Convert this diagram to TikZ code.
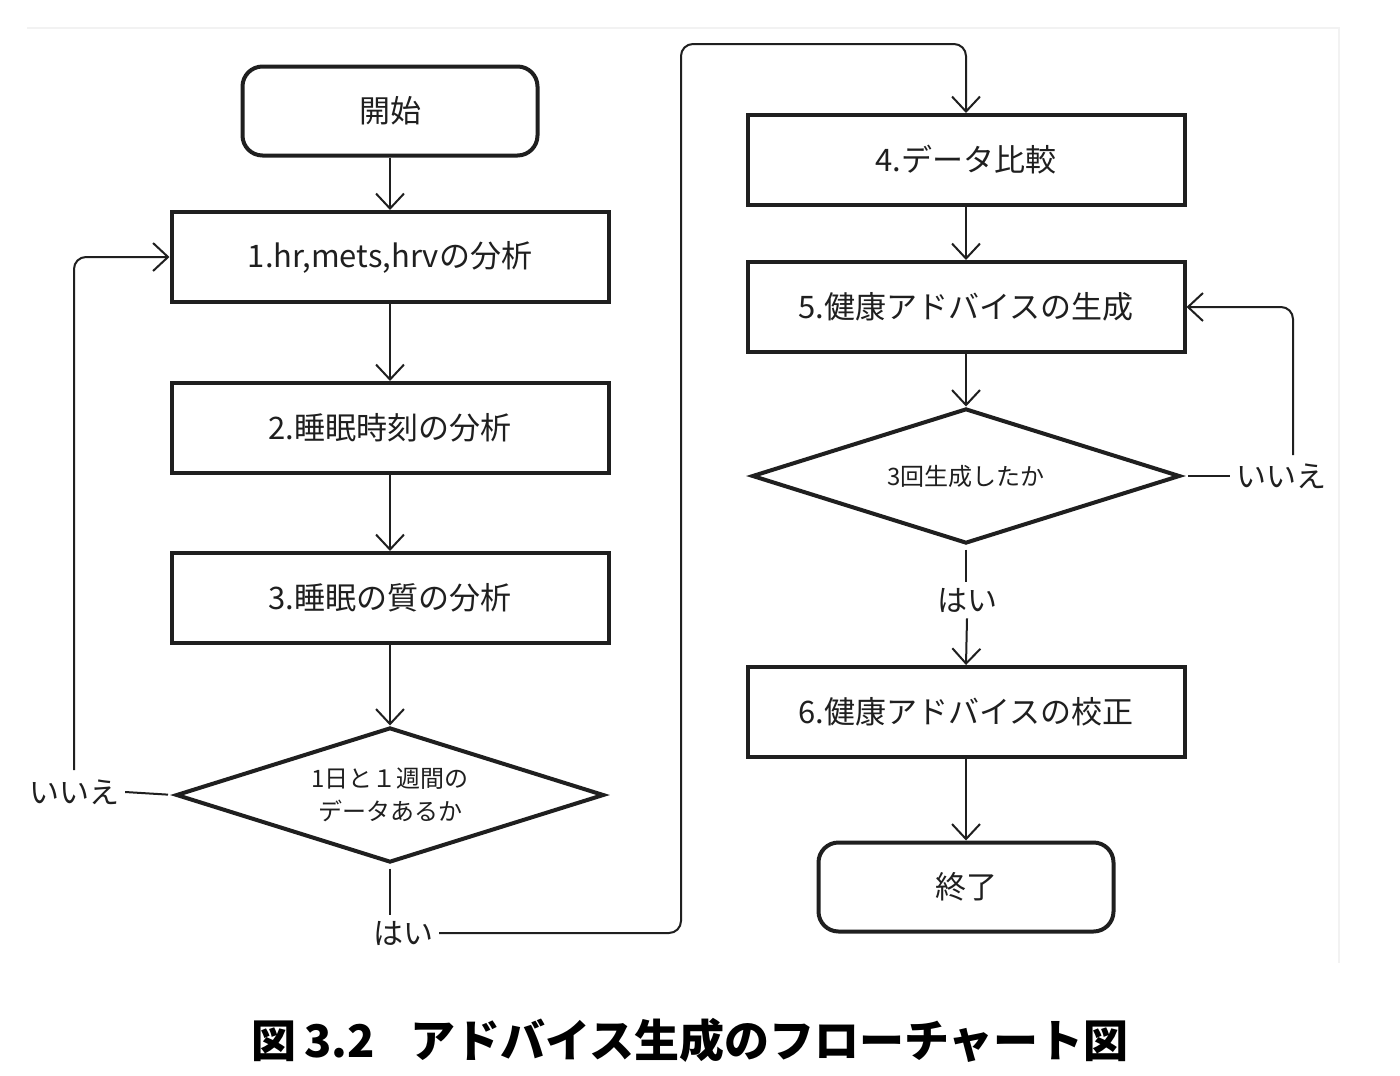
\documentclass[tikz,border=0pt]{standalone}
\usepackage{fontspec}
\setmainfont{Noto Sans CJK JP}
\usetikzlibrary{arrows.meta,shapes.geometric}
\definecolor{ink}{HTML}{1F1F1F}
\definecolor{frame}{HTML}{F2F2F2}
\begin{document}
\begin{tikzpicture}[x=1pt,y=-1pt,
  term/.style={draw=ink, text=ink, line width=4pt, rounded corners=20pt, minimum width=295pt, minimum height=89pt, inner sep=0pt, font=\fontsize{31}{36}\selectfont},
  proc/.style={draw=ink, text=ink, line width=4pt, minimum width=437pt, minimum height=90pt, inner sep=0pt, font=\fontsize{31}{36}\selectfont},
  dec/.style={diamond, shape aspect=3.3, draw=ink, text=ink, line width=4pt, minimum width=428pt, minimum height=135pt, inner sep=0pt, align=center, font=\fontsize{24}{33}\selectfont},
  lbl/.style={text=ink, inner sep=6pt, font=\fontsize{30}{36}\selectfont},
  conn/.style={draw=ink, line width=2pt},
  arr/.style={conn, -{Straight Barb[length=15pt,width=28pt,line width=2pt]}}
]
\useasboundingbox (0,0) rectangle (1400,1076);
\fill[white] (0,0) rectangle (1400,1076);
\draw[frame, line width=1.5pt] (27,28) -- (1339,28) -- (1339,963);

% left column
\node[term] (start) at (390,111) {開始};
\node[proc] (b1) at (390,257) {1.hr,mets,hrvの分析};
\node[proc] (b2) at (390,428) {2.睡眠時刻の分析};
\node[proc] (b3) at (390,598) {3.睡眠の質の分析};
\node[dec]  (d1) at (390,795) {1日と１週間の\\データあるか};
\node[lbl]  (no1) at (74,792) {いいえ};
\node[lbl]  (yes1) at (403,933) {はい};
\coordinate (n1top) at (74,770);
\coordinate (turn1) at (681,44);

% right column
\node[proc] (b4) at (966,160) {4.データ比較};
\node[proc] (b5) at (966,307) {5.健康アドバイスの生成};
\node[dec]  (d2) at (966,476) {3回生成したか};
\node[lbl]  (no2) at (1281,476) {いいえ};
\node[lbl]  (yes2) at (967,600) {はい};
\coordinate (n2top) at (1293,455);
\node[proc] (b6) at (966,712) {6.健康アドバイスの校正};
\node[term] (end) at (966,887) {終了};

% caption
\node[text=black, inner sep=0pt, font=\bfseries\fontsize{45}{50}\selectfont] (cap) at (690,1040) {図\hspace{8pt}3.2\hspace{36pt}アドバイス生成のフローチャート図};

% connectors left
\draw[arr] (start) -- (b1);
\draw[arr] (b1) -- (b2);
\draw[arr] (b2) -- (b3);
\draw[arr] (b3) -- (d1);
\draw[conn, shorten <=6pt] (d1.west) -- (no1.east);
\draw[arr, rounded corners=12pt] (n1top) |- (b1.west);
\draw[conn, shorten <=4pt] (d1.south) -- (d1.south |- yes1.north);
\draw[arr, rounded corners=12pt] (yes1.east) -| (turn1) -| (b4.north);

% connectors right
\draw[arr] (b4) -- (b5);
\draw[arr] (b5) -- (d2);
\draw[conn, shorten <=6pt] (d2.east) -- (no2.west);
\draw[arr, rounded corners=12pt] (n2top) |- (b5.east);
\draw[conn, shorten <=4pt] (d2.south) -- (d2.south |- yes2.north);
\draw[arr] (yes2.south) -- (b6.north);
\draw[arr] (b6) -- (end);
\end{tikzpicture}
\end{document}
